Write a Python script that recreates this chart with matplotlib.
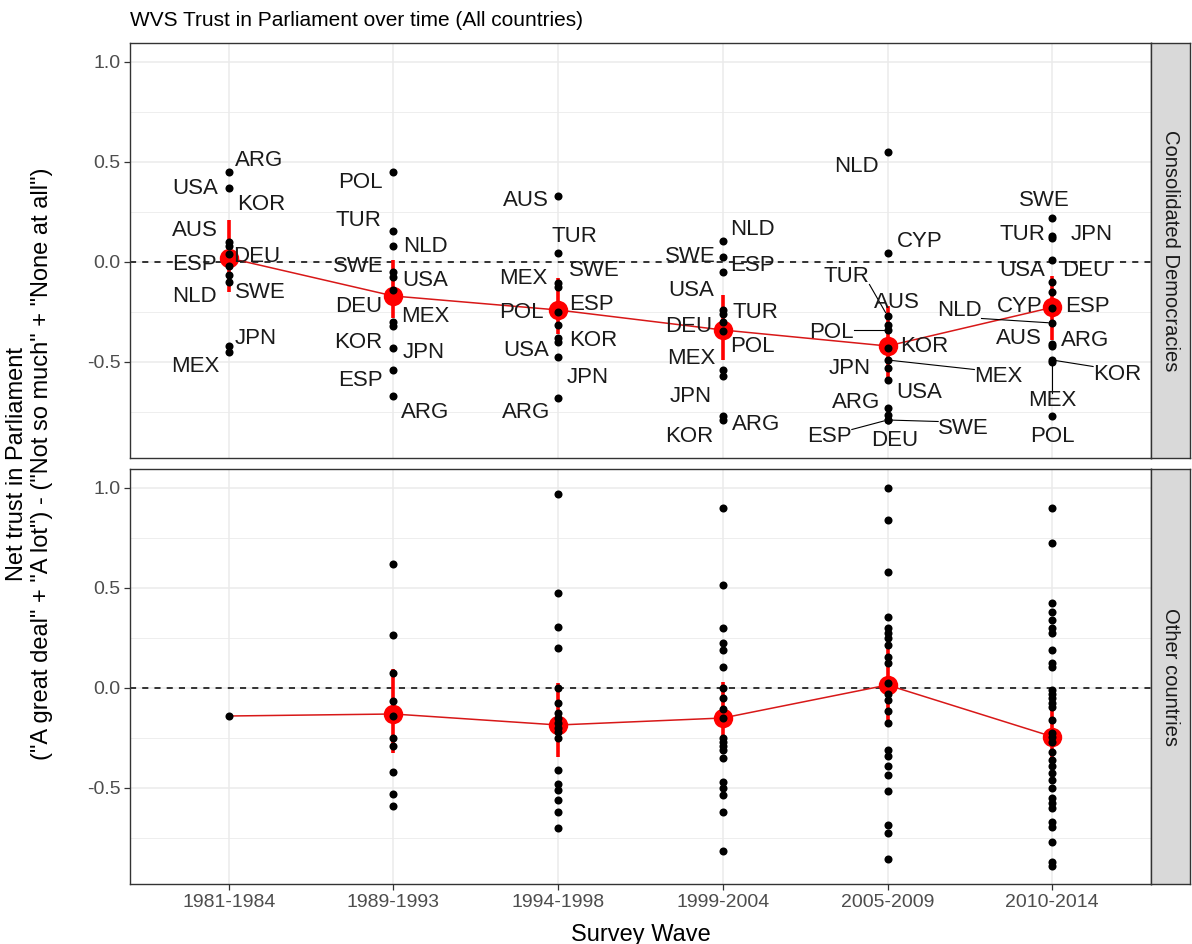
import numpy as np
import matplotlib
matplotlib.use("Agg")
import matplotlib.pyplot as plt
from matplotlib.lines import Line2D

plt.rcParams['font.family'] = ['Liberation Sans', 'DejaVu Sans']

waves = ['1981-1984', '1989-1993', '1994-1998', '1999-2004', '2005-2009', '2010-2014']

# Consolidated democracies (labelled countries), one pair of lists per wave
cd_w1_names = ['ARG', 'USA', 'KOR', 'AUS', 'DEU', 'ESP', 'SWE', 'NLD', 'JPN', 'MEX']
cd_w1_vals = [0.45, 0.37, 0.10, 0.08, 0.04, -0.02, -0.065, -0.10, -0.42, -0.45]
cd_w2_names = ['POL', 'TUR', 'NLD', 'SWE', 'USA', 'DEU', 'MEX', 'KOR', 'JPN', 'ESP', 'ARG']
cd_w2_vals = [0.45, 0.155, 0.08, -0.05, -0.075, -0.14, -0.30, -0.32, -0.43, -0.54, -0.67]
cd_w3_names = ['AUS', 'TUR', 'MEX', 'SWE', 'ESP', 'POL', 'KOR', 'USA', 'JPN', 'ARG']
cd_w3_vals = [0.33, 0.047, -0.107, -0.125, -0.25, -0.315, -0.38, -0.40, -0.477, -0.68]
cd_w4_names = ['NLD', 'SWE', 'ESP', 'USA', 'TUR', 'DEU', 'POL', 'MEX', 'JPN', 'ARG', 'KOR']
cd_w4_vals = [0.107, 0.027, -0.048, -0.24, -0.26, -0.30, -0.345, -0.54, -0.57, -0.77, -0.79]
cd_w5_names = ['NLD', 'CYP', 'TUR', 'AUS', 'POL', 'KOR', 'MEX', 'JPN', 'USA', 'ARG', 'DEU', 'ESP', 'SWE']
cd_w5_vals = [0.55, 0.043, -0.27, -0.315, -0.34, -0.43, -0.49, -0.53, -0.59, -0.73, -0.765, -0.79, -0.79]
cd_w6_names = ['SWE', 'TUR', 'JPN', 'USA', 'DEU', 'CYP', 'ESP', 'NLD', 'AUS', 'ARG', 'KOR', 'MEX', 'POL']
cd_w6_vals = [0.22, 0.13, 0.12, 0.01, -0.10, -0.15, -0.23, -0.305, -0.41, -0.42, -0.49, -0.50, -0.77]

cd_mean = [0.02, -0.17, -0.24, -0.34, -0.42, -0.227]
cd_lo = [-0.15, -0.28, -0.36, -0.49, -0.60, -0.39]
cd_hi = [0.21, 0.01, -0.08, -0.165, -0.22, -0.07]

# Other countries (unlabelled)
oc_w1 = [-0.14]
oc_w2 = [0.62, 0.265, 0.073, -0.065, -0.14, -0.25, -0.29, -0.42, -0.53, -0.59]
oc_w3 = [0.97, 0.473, 0.307, 0.198, 0.0, -0.073, -0.127, -0.15, -0.175, -0.20, -0.22,
         -0.25, -0.41, -0.48, -0.51, -0.56, -0.62, -0.70]
oc_w4 = [0.90, 0.515, 0.298, 0.227, 0.19, 0.103, 0.0, -0.05, -0.107, -0.15, -0.25,
         -0.27, -0.29, -0.31, -0.35, -0.47, -0.50, -0.535, -0.62, -0.815]
oc_w5 = [1.0, 0.84, 0.58, 0.353, 0.30, 0.273, 0.25, 0.215, 0.157, 0.127, 0.023, -0.03,
         -0.06, -0.113, -0.173, -0.31, -0.34, -0.39, -0.435, -0.515, -0.685, -0.727, -0.857]
oc_w6 = [0.90, 0.727, 0.427, 0.38, 0.34, 0.30, 0.273, 0.19, 0.123, 0.103, -0.01, -0.03,
         -0.05, -0.073, -0.093, -0.16, -0.227, -0.243, -0.268, -0.318, -0.36, -0.39,
         -0.425, -0.46, -0.50, -0.55, -0.575, -0.60, -0.67, -0.693, -0.77, -0.87, -0.89]

oc_mean = [-0.14, -0.13, -0.185, -0.15, 0.015, -0.243]
oc_lo = [np.nan, -0.327, -0.347, -0.33, -0.165, -0.376]
oc_hi = [np.nan, 0.093, 0.023, 0.03, 0.198, -0.11]

cd_names = [cd_w1_names, cd_w2_names, cd_w3_names, cd_w4_names, cd_w5_names, cd_w6_names]
cd_vals = [cd_w1_vals, cd_w2_vals, cd_w3_vals, cd_w4_vals, cd_w5_vals, cd_w6_vals]
oc_vals = [oc_w1, oc_w2, oc_w3, oc_w4, oc_w5, oc_w6]

# label placement (pixel offsets from the point, like ggrepel's result)
label_offsets = [
    {'ARG': (30, 12), 'USA': (-34, 0), 'KOR': (32, 38), 'AUS': (-34, 16), 'DEU': (28, -2),
     'ESP': (-34, 1), 'SWE': (32, -18), 'NLD': (-34, -14), 'JPN': (27, 7), 'MEX': (-33, -15)},
    {'POL': (-33, -11), 'TUR': (-35, 11), 'NLD': (32, 0), 'SWE': (-35, 6), 'USA': (32, -3),
     'DEU': (-35, -16), 'MEX': (32, 6), 'KOR': (-35, -16), 'JPN': (30, -4), 'ESP': (-33, -11),
     'ARG': (32, -16)},
    {'AUS': (-32, -4), 'TUR': (16, 16), 'MEX': (-35, 5), 'SWE': (36, 16), 'ESP': (33, 7),
     'POL': (-37, 12), 'KOR': (35, -3), 'USA': (-32, -8), 'JPN': (30, -20), 'ARG': (-32, -15)},
    {'NLD': (30, 11), 'SWE': (-32, 0), 'ESP': (30, 6), 'USA': (-32, 19), 'TUR': (33, 2),
     'DEU': (-34, -5), 'POL': (30, -16), 'MEX': (-32, 12), 'JPN': (-32, -20), 'ARG': (33, -9),
     'KOR': (-34, -17)},
    {'NLD': (-31, -14), 'CYP': (32, 12), 'TUR': (-41, 39), 'AUS': (9, 23), 'POL': (-56, -2),
     'KOR': (37, 1), 'MEX': (111, -17), 'JPN': (-38, 0), 'USA': (32, -13), 'ARG': (-31, 5),
     'DEU': (7, -26), 'ESP': (-58, -17), 'SWE': (76, -9)},
    {'SWE': (-8, 18), 'TUR': (-30, 1), 'JPN': (40, 3), 'USA': (-30, -10), 'DEU': (33, 12),
     'CYP': (-32, -15), 'ESP': (35, 2), 'NLD': (-93, 12), 'AUS': (-33, 6), 'ARG': (33, 6),
     'KOR': (65, -14), 'MEX': (0, -38), 'POL': (0, -21)},
]
with_segment = {(4, 'TUR'), (4, 'POL'), (4, 'MEX'), (4, 'ESP'), (4, 'SWE'),
                (5, 'NLD'), (5, 'KOR'), (5, 'MEX')}

W, H = 1192, 944
fig = plt.figure(figsize=(W / 100, H / 100), dpi=100)

L, R = 130, 1151
panels = [(43, 458), (469, 884)]
strip_text = ['Consolidated Democracies', 'Other countries']
x = np.arange(1, 7)
ylim = (-0.98, 1.095)

axes = []
for i, (t, b) in enumerate(panels):
    ax = fig.add_axes([L / W, 1 - b / H, (R - L) / W, (b - t) / H])
    ax.set_xlim(0.4, 6.6)
    ax.set_ylim(*ylim)
    ax.set_xticks(x)
    ax.set_yticks([-0.5, 0.0, 0.5, 1.0])
    ax.set_yticks([-0.75, -0.25, 0.25, 0.75], minor=True)
    ax.grid(True, which='major', color='#EBEBEB', lw=1.1, zorder=0)
    ax.grid(True, which='minor', axis='y', color='#EBEBEB', lw=0.6, zorder=0)
    ax.set_axisbelow(True)
    for s in ax.spines.values():
        s.set_color('#333333')
        s.set_linewidth(1.0)
    ax.tick_params(which='major', length=4, width=0.9, color='#333333',
                   labelsize=14, labelcolor='#4D4D4D', pad=3)
    ax.tick_params(which='minor', length=0)
    ax.set_yticklabels(['-0.5', '0.0', '0.5', '1.0'])
    if i == 0:
        ax.tick_params(axis='x', which='both', bottom=False, labelbottom=False)
    else:
        ax.set_xticklabels(waves)
    ax.axhline(0, color='black', lw=1.1, ls=(0, (4, 4)), zorder=1)

    sax = fig.add_axes([R / W, 1 - b / H, 39 / W, (b - t) / H])
    sax.set_facecolor('#D9D9D9')
    sax.set_xticks([])
    sax.set_yticks([])
    for s in sax.spines.values():
        s.set_color('#333333')
        s.set_linewidth(1.0)
    sax.text(0.5, 0.5, strip_text[i], rotation=-90, ha='center', va='center',
             fontsize=14.5, color='#1A1A1A', transform=sax.transAxes)
    axes.append(ax)

red = '#FF0000'

# top panel: consolidated democracies
ax = axes[0]
ax.plot(x, cd_mean, color='#D81818', lw=1.1, zorder=2)
for k in range(6):
    ax.plot([x[k], x[k]], [cd_lo[k], cd_hi[k]], color=red, lw=2.6, zorder=3,
            solid_capstyle='butt')
ax.plot(x, cd_mean, 'o', color=red, ms=14, mec='none', zorder=4)
annots = []
for k in range(6):
    ax.plot([x[k]] * len(cd_vals[k]), cd_vals[k], 'o', color='black', ms=5.8,
            mec='none', zorder=5)
    for name, v in zip(cd_names[k], cd_vals[k]):
        dx, dy = label_offsets[k][name]
        a = ax.annotate(name, xy=(x[k], v), xytext=(dx, dy), textcoords='offset pixels',
                        ha='center', va='center', fontsize=16, color='#1A1A1A', zorder=6)
        if (k, name) in with_segment:
            annots.append((a, x[k], v))

# bottom panel: other countries
ax = axes[1]
ax.plot(x, oc_mean, color='#D81818', lw=1.1, zorder=2)
for k in range(6):
    if not np.isnan(oc_lo[k]):
        ax.plot([x[k], x[k]], [oc_lo[k], oc_hi[k]], color=red, lw=2.6, zorder=3,
                solid_capstyle='butt')
        ax.plot(x[k], oc_mean[k], 'o', color=red, ms=14, mec='none', zorder=4)
for k in range(6):
    ax.plot([x[k]] * len(oc_vals[k]), oc_vals[k], 'o', color='black', ms=5.8,
            mec='none', zorder=5)

# repel-style segments from the point to the nearest edge of its label
fig.canvas.draw()
renderer = fig.canvas.get_renderer()
ax = axes[0]
for a, xp, yp in annots:
    bb = a.get_window_extent(renderer)
    px, py = ax.transData.transform((xp, yp))
    cx = min(max(px, bb.x0), bb.x1)
    cy = min(max(py, bb.y0 + 3), bb.y1 - 3)
    d = np.hypot(cx - px, cy - py)
    sx, sy = px + (cx - px) * 4 / d, py + (cy - py) * 4 / d
    p0 = ax.transData.inverted().transform((sx, sy))
    p1 = ax.transData.inverted().transform((cx, cy))
    ax.add_line(Line2D([p0[0], p1[0]], [p0[1], p1[1]], color='black', lw=0.8, zorder=5))

fig.text(L / W, 1 - 20 / H, 'WVS Trust in Parliament over time (All countries)',
         fontsize=15, ha='left', va='center')
fig.text((L + R) / 2 / W, 1 - 935 / H, 'Survey Wave', fontsize=17, ha='center', va='center')
fig.text(17 / W, 1 - 464 / H, 'Net trust in Parliament', fontsize=17, rotation=90,
         ha='center', va='center')
fig.text(42 / W, 1 - 464 / H, '("A great deal" + "A lot") - ("Not so much" + "None at all")',
         fontsize=17, rotation=90, ha='center', va='center')

fig.savefig('out.png', dpi=100)
